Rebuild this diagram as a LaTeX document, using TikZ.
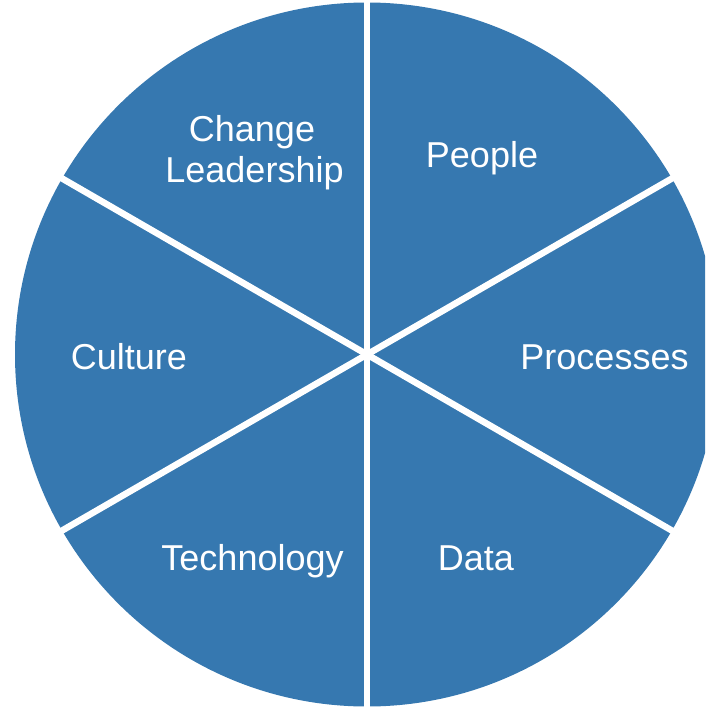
\documentclass[tikz,border=0pt]{standalone}
\usepackage{fontspec}
\setmainfont{Liberation Sans}
\definecolor{wheelblue}{RGB}{54,120,176}
\tikzset{
  lbl/.style={text=white, anchor=base, inner sep=0pt, font=\fontsize{36}{41}\selectfont},
  sep/.style={draw=white, line width=6.5pt}
}
\begin{document}
\begin{tikzpicture}[x=1pt,y=-1pt]
\useasboundingbox (0,0) rectangle (705,707);
\clip (0,0) rectangle (705,707);
\coordinate (c) at (367,354.5);
\fill[wheelblue] (c) circle (352);
\draw[sep] (c) -- ++(90:-360);
\draw[sep] (c) -- ++(90:360);
\draw[sep] (c) -- ++(30:360);
\draw[sep] (c) -- ++(30:-360);
\draw[sep] (c) -- ++(150:360);
\draw[sep] (c) -- ++(150:-360);
\node[lbl] (change) at (252,141) {Change};
\node[lbl] (leader) at (254.5,182) {Leadership};
\node[lbl] (people) at (482,167) {People};
\node[lbl] (proc) at (604.5,369) {Processes};
\node[lbl] (data) at (476,570) {Data};
\node[lbl] (tech) at (252.5,570) {Technology};
\node[lbl] (cult) at (129,369) {Culture};
\end{tikzpicture}
\end{document}
